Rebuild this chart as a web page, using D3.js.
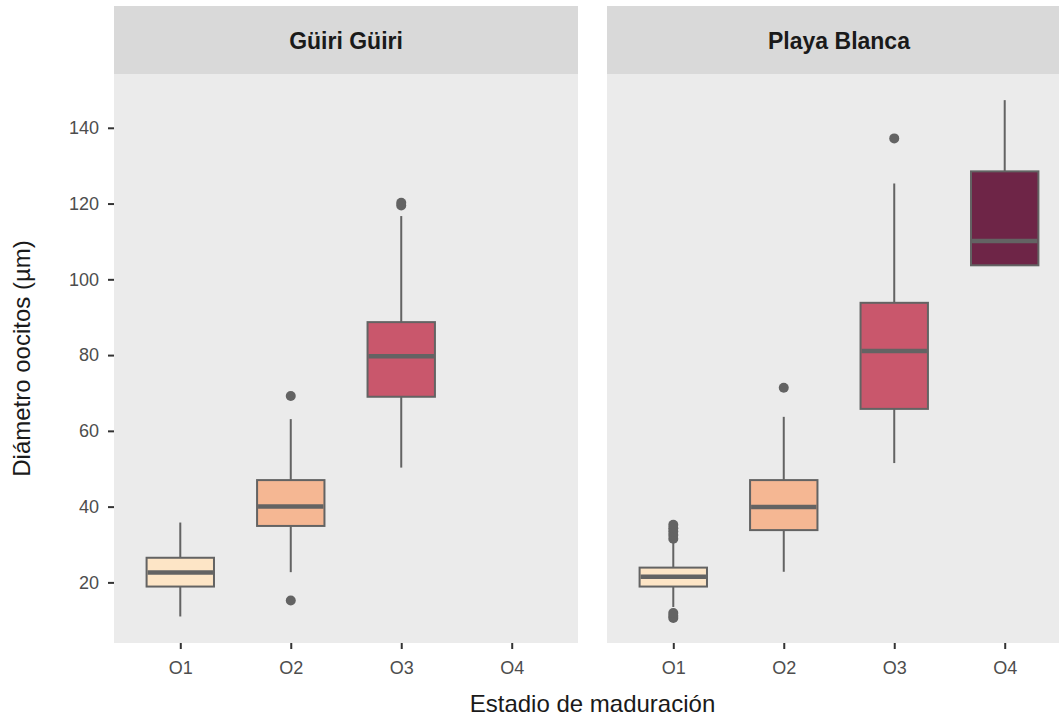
<!DOCTYPE html>
<html>
<head>
<meta charset="utf-8">
<script src="https://cdn.jsdelivr.net/npm/d3@7"></script>
<style>
  body { margin: 0; background: #fff; }
  text { font-family: "Liberation Sans", Arial, sans-serif; }
</style>
</head>
<body>
<div id="chart"></div>
<script>
// data
const stages = ["O1", "O2", "O3", "O4"];
const sites = ["Güiri Güiri", "Playa Blanca"];
const stageColors = ["#fde5c6", "#f5b793", "#c9576c", "#6e2547"];

// per site, per stage: whisker low, Q1, median, Q3, whisker high
const gg_low = [11.0, 22.7, 50.3, null];
const gg_q1 = [18.9, 34.9, 69.0, null];
const gg_med = [22.6, 40.0, 79.7, null];
const gg_q3 = [26.5, 47.0, 88.7, null];
const gg_high = [35.8, 63.1, 116.7, null];
const gg_out = [[], [15.2, 69.2], [119.5, 120.2], []];

const pb_low = [13.5, 22.8, 51.5, 103.7];
const pb_q1 = [18.9, 33.8, 65.8, 103.7];
const pb_med = [21.5, 39.9, 81.1, 110.1];
const pb_q3 = [23.9, 47.0, 93.8, 128.5];
const pb_high = [30.5, 63.7, 125.3, 147.3];
const pb_out = [[31.5, 32.5, 33.4, 34.3, 35.2, 10.6, 11.2, 11.9], [71.4], [137.2], []];

const yTicks = [20, 40, 60, 80, 100, 120, 140];

const W = 1059, H = 719;
const svg = d3.select("#chart").append("svg")
    .attr("width", W).attr("height", H);

const panelTop = 74, panelBottom = 643, stripTop = 6;
const panels = [{x0: 114, x1: 578}, {x0: 607, x1: 1071}];
const FONT = "'Liberation Sans', Arial, sans-serif";

const y = d3.scaleLinear().domain([4.0, 154.2]).range([panelBottom, panelTop]);

function stats(lo, q1, md, q3, hi, out) {
    return stages.map((s, i) => ({
        stage: s, color: stageColors[i],
        low: lo[i], q1: q1[i], med: md[i], q3: q3[i], high: hi[i], out: out[i]
    }));
}
const siteData = [
    stats(gg_low, gg_q1, gg_med, gg_q3, gg_high, gg_out),
    stats(pb_low, pb_q1, pb_med, pb_q3, pb_high, pb_out)
];

const grey = "#636363";

sites.forEach(function(site, p) {
    const pan = panels[p];
    const x = d3.scalePoint().domain(stages).range([pan.x0, pan.x1]).padding(0.6);
    const bw = x.step() * 0.61;

    // strip
    svg.append("rect")
        .attr("x", pan.x0).attr("y", stripTop)
        .attr("width", pan.x1 - pan.x0).attr("height", panelTop - stripTop)
        .attr("fill", "#d9d9d9");
    svg.append("text")
        .attr("x", (pan.x0 + pan.x1) / 2).attr("y", 49)
        .attr("text-anchor", "middle")
        .style("font-size", "23px").style("font-weight", "bold")
        .attr("fill", "#1a1a1a")
        .text(site);

    // panel
    svg.append("rect")
        .attr("x", pan.x0).attr("y", panelTop)
        .attr("width", pan.x1 - pan.x0).attr("height", panelBottom - panelTop)
        .attr("fill", "#ebebeb");

    // x axis
    const xa = svg.append("g")
        .attr("transform", `translate(0,${panelBottom})`)
        .call(d3.axisBottom(x).tickSize(6).tickPadding(12));
    xa.attr("font-family", FONT).attr("font-size", 18);
    xa.select(".domain").remove();
    xa.selectAll("line").attr("stroke", "#333").attr("stroke-width", 2);
    xa.selectAll("text").attr("fill", "#4d4d4d");

    const boxes = svg.append("g").selectAll("g")
        .data(siteData[p].filter(d => d.med != null))
        .enter().append("g");

    boxes.append("line")
        .attr("x1", d => x(d.stage)).attr("x2", d => x(d.stage))
        .attr("y1", d => y(d.high)).attr("y2", d => y(d.q3))
        .attr("stroke", grey).attr("stroke-width", 2);
    boxes.append("line")
        .attr("x1", d => x(d.stage)).attr("x2", d => x(d.stage))
        .attr("y1", d => y(d.q1)).attr("y2", d => y(d.low))
        .attr("stroke", grey).attr("stroke-width", 2);
    boxes.append("rect")
        .attr("x", d => x(d.stage) - bw / 2).attr("width", bw)
        .attr("y", d => y(d.q3)).attr("height", d => y(d.q1) - y(d.q3))
        .attr("fill", d => d.color)
        .attr("stroke", grey).attr("stroke-width", 2);
    boxes.append("line")
        .attr("x1", d => x(d.stage) - bw / 2 + 1).attr("x2", d => x(d.stage) + bw / 2 - 1)
        .attr("y1", d => y(d.med)).attr("y2", d => y(d.med))
        .attr("stroke", grey).attr("stroke-width", 4.5);

    boxes.selectAll("circle")
        .data(d => d.out.map(v => ({stage: d.stage, v: v})))
        .enter().append("circle")
        .attr("cx", d => x(d.stage)).attr("cy", d => y(d.v))
        .attr("r", 5).attr("fill", grey);
});

// y axis (left panel only)
const ya = svg.append("g")
    .attr("transform", `translate(${panels[0].x0},0)`)
    .call(d3.axisLeft(y).tickValues(yTicks).tickSize(6).tickPadding(9));
ya.attr("font-family", FONT).attr("font-size", 18);
ya.select(".domain").remove();
ya.selectAll("line").attr("stroke", "#333").attr("stroke-width", 2);
ya.selectAll("text").attr("fill", "#4d4d4d");

// axis titles
svg.append("text")
    .attr("transform", `translate(30,${(panelTop + panelBottom) / 2}) rotate(-90)`)
    .attr("text-anchor", "middle")
    .style("font-size", "24px").attr("fill", "#1a1a1a")
    .text("Diámetro oocitos (µm)");
svg.append("text")
    .attr("x", (panels[0].x0 + panels[1].x1) / 2).attr("y", 712)
    .attr("text-anchor", "middle")
    .style("font-size", "24px").attr("fill", "#1a1a1a")
    .text("Estadio de maduración");
</script>
</body>
</html>
